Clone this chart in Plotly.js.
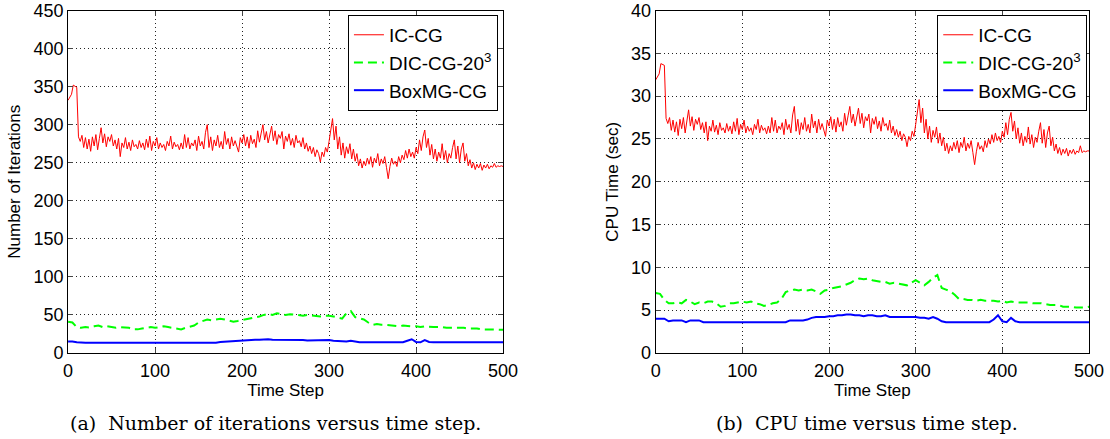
<!DOCTYPE html>
<html>
<head>
<meta charset="utf-8">
<script src="https://cdn.plot.ly/plotly-3.0.1.min.js"></script>
<style>html,body{margin:0;padding:0;background:#fff;}#chart{width:1110px;height:439px;}</style>
</head>
<body>
<div id="chart"></div>
<script>
// ---- Data ----
const seriesNames = ['IC-CG', 'DIC-CG-20<sup>3</sup>', 'BoxMG-CG'];
const xTicks = [0, 100, 200, 300, 400, 500];
const iterTicks = [0, 50, 100, 150, 200, 250, 300, 350, 400, 450];
const cpuTicks = [0, 5, 10, 15, 20, 25, 30, 35, 40];

// IC-CG sampled every 2 time steps (0..500)
const iterICCG = [
332,336,340,352,350,349,284,278,286,270,
283,268,281,265,284,272,287,267,282,296,
276,288,271,284,278,287,272,280,268,282,
258,276,270,283,268,277,266,280,271,274,
268,279,270,276,267,281,270,285,266,278,
272,283,268,276,270,274,266,278,272,285,
268,277,271,274,267,276,268,287,270,283,
268,276,272,280,266,285,272,278,268,290,
300,270,284,266,280,272,286,270,278,268,
291,274,282,268,284,272,279,270,264,283,
276,287,272,284,269,286,275,281,270,292,
277,289,300,280,291,276,286,298,279,292,
274,287,282,291,268,285,278,288,273,282,
270,286,276,279,271,283,268,276,265,272,
262,270,258,267,262,251,264,258,270,264,
278,296,308,280,298,268,284,260,276,256,
271,262,275,255,268,252,262,246,255,243,
252,246,256,248,258,244,256,250,262,246,
255,249,258,244,229,245,256,248,252,245,
258,250,260,254,266,256,268,258,264,256,
270,262,280,266,284,293,270,282,260,274,
255,268,252,264,256,275,254,266,250,262,
256,270,280,255,272,250,268,276,252,262,
246,254,243,250,241,248,243,249,240,247,
243,248,242,246,244,249,244,246,245,246,
245];

const cpuICCG = [
31.9,32.3,32.6,33.8,33.7,33.6,27.4,26.8,27.5,26.0,
27.2,25.8,27.0,25.4,27.3,26.2,27.5,25.7,27.1,28.4,
26.5,27.6,26.0,27.3,26.7,27.5,26.1,26.9,25.7,27.0,
24.8,26.5,25.9,27.2,25.8,26.6,25.5,26.9,26.0,26.3,
25.7,26.8,25.9,26.5,25.6,27.0,25.9,27.4,25.5,26.7,
26.1,27.2,25.7,26.5,25.9,26.3,25.5,26.7,26.1,27.3,
25.7,26.6,26.0,26.3,25.6,26.5,25.7,27.5,25.9,27.2,
25.7,26.5,26.1,26.9,25.5,27.3,26.1,26.7,25.7,27.8,
28.8,25.9,27.3,25.5,26.9,26.1,27.5,25.9,26.7,25.7,
27.9,26.3,27.1,25.7,27.3,26.1,26.8,25.9,25.3,27.2,
26.5,27.6,26.1,27.3,25.8,27.5,26.4,27.0,25.9,28.0,
26.6,27.7,28.8,26.9,27.9,26.5,27.5,28.6,26.8,28.0,
26.3,27.6,27.1,27.9,25.7,27.4,26.7,27.6,26.2,27.1,
25.9,27.5,26.5,26.8,26.0,27.2,25.7,26.5,25.4,26.1,
25.2,25.9,24.8,25.6,25.2,24.1,25.3,24.8,25.9,25.3,
26.7,28.4,29.6,26.9,28.6,25.7,27.3,25.0,26.5,24.6,
26.0,25.2,26.4,24.5,25.7,24.2,25.2,23.6,24.5,23.3,
24.2,23.6,24.6,23.8,24.8,23.4,24.6,24.0,25.2,23.6,
24.5,23.9,24.8,23.4,22.0,23.5,24.6,23.8,24.2,23.5,
24.8,24.0,25.0,24.4,25.5,24.6,25.7,24.8,25.3,24.6,
25.9,25.2,26.9,25.5,27.3,28.1,25.9,27.1,25.0,26.3,
24.5,25.7,24.2,25.3,24.6,26.4,24.4,25.5,24.0,25.2,
24.6,25.9,26.9,24.5,26.1,24.0,25.7,26.5,24.2,25.2,
23.6,24.4,23.3,24.0,23.1,23.8,23.3,23.9,23.0,23.7,
23.3,23.8,23.2,23.6,23.4,24.2,23.4,23.6,23.5,23.6,
23.6];

// DIC-CG and BoxMG-CG sampled every 5 time steps (0..500)
const iterDIC = [
41,40,34,33,34,33.5,35,36,34,35,
34,33,34,33.5,33,31,31,32,33,34,
33,34,35,34,33,32,31,33,34,36,
40,42,44,43,44,45,44,43,41,42,
43,45,46,47,48,50,51,50,52,51,
50,51,50,49.5,49,50,49,48.5,48,49,
49,48,46,45,52,55,47,46,44,40,
37,38,37,37,36,36,35,36,35,35,
35,34,35,34,34,34,34,33,33,33,
33,33,32,32,32,31,31,31,31,30.5,
30.5];

const iterBox = [
15,15,14,
13.5,13.5,13.5,13.5,13.5,13.5,13.5,13.5,13.5,13.5,13.5,13.5,13.5,13.5,13.5,13.5,
13.5,13.5,13.5,13.5,13.5,13.5,13.5,13.5,13.5,13.5,13.5,13.5,13.5,13.5,13.5,13.5,
14.5,15,15.5,16,16,16.5,17,17,17.5,17.5,18,18,17.5,17.5,17,17.5,
17,17.5,17,17,16.5,16.5,16.5,17,17,17,16,15.5,15.5,15,16,14.5,
14,14,14,14,14,14,14,14,14,14,14,
16,18,14.5,14,17,14.5,
14,14,14,14,14,14,14,14,14,14,14,14,14,14,14,14,14];

const cpuDIC = [
7.0,6.9,6.2,5.8,5.8,5.9,5.8,6.2,6.0,5.7,
5.9,5.8,6.0,6.0,5.8,5.4,5.5,5.8,5.8,5.9,
6.0,5.9,6.0,5.8,5.7,5.5,5.6,5.8,5.9,6.3,
7.1,7.3,7.4,7.3,7.4,7.3,7.4,7.2,6.9,7.3,
7.4,7.6,7.7,7.8,8.0,8.2,8.5,8.7,8.6,8.7,
8.5,8.4,8.3,8.3,8.1,8.2,8.1,8.0,7.9,8.2,
8.5,8.2,7.9,8.3,8.8,9.1,7.6,7.4,7.2,6.8,
6.3,6.3,6.2,6.2,6.1,6.2,6.1,6.1,6.1,6.0,
6.1,5.9,6.0,5.9,5.9,5.9,5.9,5.8,5.8,5.8,
5.7,5.6,5.6,5.6,5.4,5.4,5.4,5.3,5.3,5.3,
5.4];

const cpuBox = [
4.0,4.0,4.0,3.7,3.8,3.8,3.8,3.6,3.8,3.8,3.8,3.6,
3.6,3.6,3.6,3.6,3.6,3.6,3.6,3.6,3.6,3.6,3.6,3.6,3.6,3.6,3.6,3.6,3.6,3.6,3.6,
3.8,3.8,3.8,3.8,3.9,4.1,4.2,4.2,4.2,4.3,4.3,4.4,4.4,4.5,4.5,4.4,4.4,4.3,
4.4,4.4,4.3,4.3,4.4,4.2,4.2,4.2,4.2,4.2,4.2,4.2,4.1,4.1,4.0,4.2,4.0,3.7,
3.6,3.6,3.6,3.6,3.6,3.6,3.6,3.6,3.6,3.6,3.6,
3.9,4.4,3.7,3.6,4.1,3.7,
3.6,3.6,3.6,3.6,3.6,3.6,3.6,3.6,3.6,3.6,3.6,3.6,3.6,3.6,3.6,3.6,3.6];

const stepsFine = iterICCG.map((_, i) => i * 2);
const stepsCoarse = iterDIC.map((_, i) => i * 5);

// ---- Styles ----
const colors = ['#ff0000', '#00ff00', '#0000ff'];
const sans = 'Liberation Sans, Arial, sans-serif';

function traces(xa, ya, leg, yFine, yDic, yBox) {
  return [
    {x: stepsFine, y: yFine, xaxis: xa, yaxis: ya, legend: leg, name: seriesNames[0], mode: 'lines',
     line: {color: colors[0], width: 1}},
    {x: stepsCoarse, y: yDic, xaxis: xa, yaxis: ya, legend: leg, name: seriesNames[1], mode: 'lines',
     line: {color: colors[1], width: 2, dash: '9px,5px'}},
    {x: stepsCoarse, y: yBox, xaxis: xa, yaxis: ya, legend: leg, name: seriesNames[2], mode: 'lines',
     line: {color: colors[2], width: 2}}
  ];
}

const data = [].concat(
  traces('x', 'y', 'legend', iterICCG, iterDIC, iterBox),
  traces('x2', 'y2', 'legend2', cpuICCG, cpuDIC, cpuBox)
);

const gridDash = '1px,3px';
function xAxis(domain, anchor) {
  return {
    domain: domain, anchor: anchor, range: [0, 500], tickvals: xTicks, ticks: 'inside', ticklen: 5,
    showline: true, linecolor: '#000', linewidth: 1, mirror: 'ticks', zeroline: false,
    showgrid: true, gridcolor: '#222', griddash: gridDash, gridwidth: 1,
    tickfont: {family: sans, size: 18, color: '#000'}, ticklabelstandoff: 1,
    title: {text: 'Time Step', font: {family: sans, size: 17, color: '#000'}, standoff: 3}
  };
}
function yAxis(domain, anchor, range, ticks, title) {
  return {
    domain: domain, anchor: anchor, range: range, tickvals: ticks, ticks: 'inside', ticklen: 5,
    showline: true, linecolor: '#000', linewidth: 1, mirror: 'ticks', zeroline: false,
    showgrid: true, gridcolor: '#222', griddash: gridDash, gridwidth: 1,
    tickfont: {family: sans, size: 18, color: '#000'},
    title: {text: title, font: {family: sans, size: 17, color: '#000'}, standoff: 8}
  };
}
function legendBox(x) {
  return {
    x: x, y: 0.966, xanchor: 'right', yanchor: 'top', bgcolor: '#fff',
    bordercolor: '#000', borderwidth: 1, font: {family: sans, size: 19, color: '#000'},
    tracegroupgap: 0, itemwidth: 30
  };
}

const yDom = [0.196, 0.976];
const layout = {
  width: 1110, height: 439,
  margin: {l: 0, r: 0, t: 0, b: 0},
  paper_bgcolor: '#fff', plot_bgcolor: '#fff',
  showlegend: true,
  xaxis: xAxis([0.0613, 0.4532], 'y'),
  yaxis: yAxis(yDom, 'x', [0, 450], iterTicks, 'Number of Iterations'),
  xaxis2: xAxis([0.5907, 0.9811], 'y2'),
  yaxis2: yAxis(yDom, 'x2', [0, 40], cpuTicks, 'CPU Time (sec)'),
  legend: legendBox(0.4486),
  legend2: legendBox(0.9795),
  annotations: [
    {text: '(a)  Number of iterations versus time step.', xref: 'paper', yref: 'paper',
     x: 0.2482, y: 0.036, xanchor: 'center', yanchor: 'middle', showarrow: false,
     font: {family: 'DejaVu Serif, serif', size: 19, color: '#000'}},
    {text: '(b)  CPU time versus time step.', xref: 'paper', yref: 'paper',
     x: 0.7815, y: 0.036, xanchor: 'center', yanchor: 'middle', showarrow: false,
     font: {family: 'DejaVu Serif, serif', size: 19, color: '#000'}}
  ]
};

Plotly.newPlot('chart', data, layout, {displayModeBar: false, staticPlot: true});
</script>
</body>
</html>
